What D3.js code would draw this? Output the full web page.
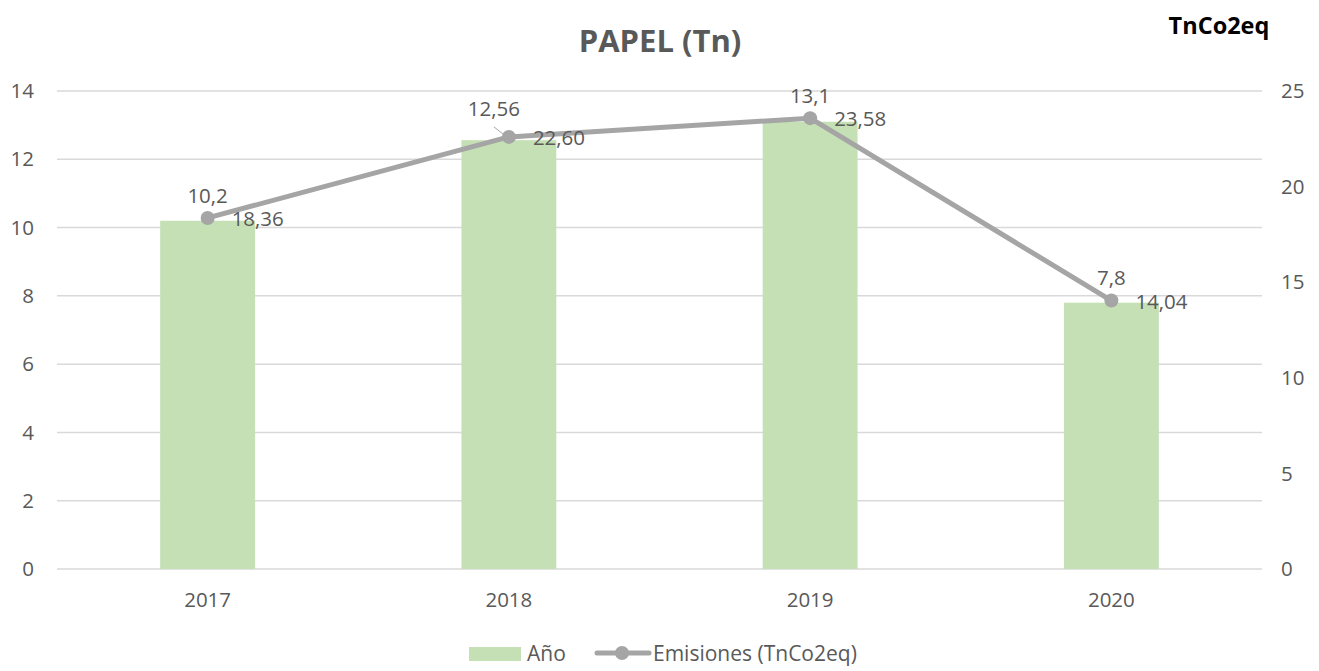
<!DOCTYPE html>
<html><head><meta charset="utf-8">
<script src="https://cdn.jsdelivr.net/npm/d3@7/dist/d3.min.js"></script>
<style>body{margin:0;background:#fff}text{font-family:"Open Sans",sans-serif;fill:#595959}</style>
</head><body><svg id="c" width="1319" height="671"></svg>
<script>
const categories = ["2017","2018","2019","2020"];
const tonnes = [10.2, 12.56, 13.1, 7.8];
const emissions = [18.36, 22.60, 23.58, 14.04];
const tonnesLabels = ["10,2","12,56","13,1","7,8"];
const emissionLabels = ["18,36","22,60","23,58","14,04"];
const leftTicks = [0,2,4,6,8,10,12,14];
const rightTicks = [0,5,10,15,20,25];

const svg = d3.select("#c");
const x = d3.scaleBand().domain(categories).range([57,1262]).paddingInner(0.685).paddingOuter(0.3425);
const yL = d3.scaleLinear().domain([0,14]).range([569,91]);
const yR = d3.scaleLinear().domain([0,25]).range([569,91]);
const cx = d => x(d) + x.bandwidth()/2;
const fs = 20.5;

svg.append("g").selectAll("line").data(leftTicks).join("line")
  .attr("x1",57).attr("x2",1262).attr("y1",d=>yL(d)).attr("y2",d=>yL(d))
  .attr("stroke","#D9D9D9").attr("stroke-width",1.5);

svg.append("g").selectAll("text").data(leftTicks).join("text")
  .attr("x",34).attr("y",d=>yL(d)).attr("dy","0.35em").attr("text-anchor","end")
  .attr("font-size",fs).text(d=>d);
svg.append("g").selectAll("text").data(rightTicks).join("text")
  .attr("x",1281).attr("y",d=>yR(d)).attr("dy","0.35em").attr("text-anchor","start")
  .attr("font-size",fs).text(d=>d);
svg.append("g").selectAll("text").data(categories).join("text")
  .attr("x",d=>cx(d)).attr("y",607).attr("text-anchor","middle")
  .attr("font-size",fs).text(d=>d);

svg.append("g").selectAll("rect").data(categories).join("rect")
  .attr("x",d=>x(d)).attr("width",x.bandwidth())
  .attr("y",(d,i)=>yL(tonnes[i])).attr("height",(d,i)=>yL(0)-yL(tonnes[i]))
  .attr("fill","#C5E0B4");

const pts = categories.map((c,i)=>[cx(c), yR(emissions[i])]);
svg.append("path").attr("d", d3.line()(pts)).attr("fill","none")
  .attr("stroke","#A5A5A5").attr("stroke-width",5).attr("stroke-linejoin","round");
svg.append("g").selectAll("circle").data(pts).join("circle")
  .attr("cx",d=>d[0]).attr("cy",d=>d[1]).attr("r",7).attr("fill","#A5A5A5");

svg.append("line").attr("x1",pts[1][0]-15).attr("y1",pts[1][1]-10).attr("x2",pts[1][0]-6).attr("y2",pts[1][1]-3)
  .attr("stroke","#A5A5A5").attr("stroke-width",1);

const offs = [[0,-15],[-15,-21],[0,-15],[0,-16]];
svg.append("g").selectAll("text").data(pts).join("text")
  .attr("x",(d,i)=>d[0]+offs[i][0]).attr("y",(d,i)=>d[1]+offs[i][1])
  .attr("text-anchor","middle").attr("font-size",fs).text((d,i)=>tonnesLabels[i]);
svg.append("g").selectAll("text").data(pts).join("text")
  .attr("x",d=>d[0]+24).attr("y",d=>d[1]+8)
  .attr("text-anchor","start").attr("font-size",fs).text((d,i)=>emissionLabels[i]);

svg.append("text").attr("x",660).attr("y",52).attr("text-anchor","middle")
  .attr("font-size",31).attr("font-weight","bold").text("PAPEL (Tn)");
svg.append("text").attr("x",1219).attr("y",34).attr("text-anchor","middle")
  .attr("font-size",23.5).attr("font-weight","bold").style("fill","#000").text("TnCo2eq");

const lg = svg.append("g");
lg.append("rect").attr("x",469).attr("y",647).attr("width",52).attr("height",14).attr("fill","#C5E0B4");
lg.append("text").attr("x",527).attr("y",661).attr("font-size",21).text("Año");
lg.append("line").attr("x1",597).attr("x2",649).attr("y1",653).attr("y2",653)
  .attr("stroke","#A5A5A5").attr("stroke-width",5).attr("stroke-linecap","round");
lg.append("circle").attr("cx",622).attr("cy",653).attr("r",7).attr("fill","#A5A5A5");
lg.append("text").attr("x",653).attr("y",661).attr("font-size",21).text("Emisiones (TnCo2eq)");
</script></body></html>
